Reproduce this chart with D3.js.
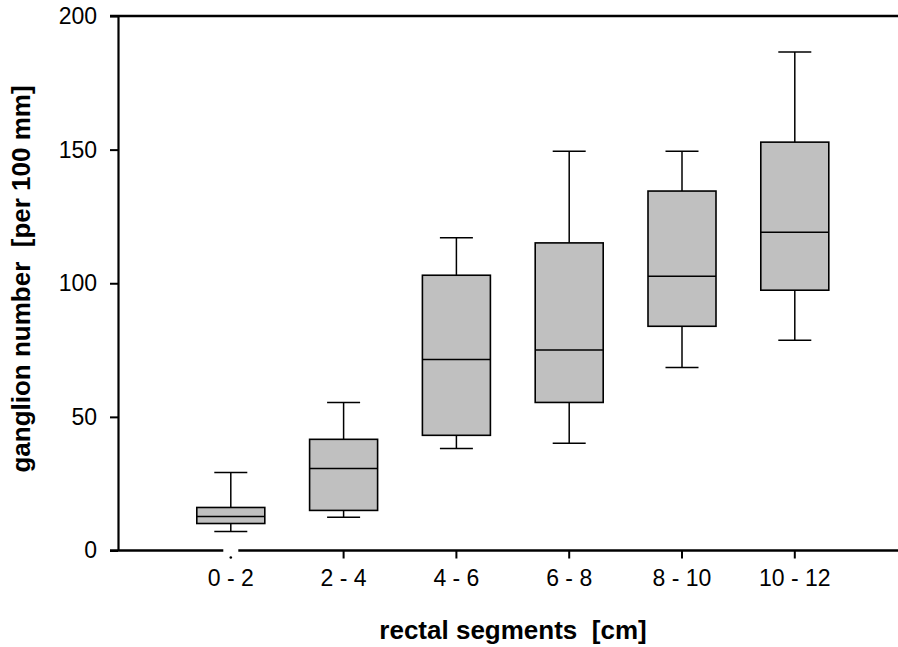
<!DOCTYPE html>
<head>
  <style>
    body { margin: 0; background: #fff; }
    text { font-family: "Liberation Sans", Arial, sans-serif; fill: #000; white-space: pre; }
  </style>
  <script src="https://d3js.org/d3.v7.min.js"></script>
</head>
<body>
<div class="home"></div>
<script>
  // box statistics
  const segments = ["0 - 2", "2 - 4", "4 - 6", "6 - 8", "8 - 10", "10 - 12"];
  const whiskerLow = [7.1, 12.4, 38.2, 40.1, 68.5, 78.7];
  const q1 = [10.1, 15.0, 43.1, 55.4, 83.9, 97.4];
  const medians = [12.7, 30.7, 71.5, 75.0, 102.6, 119.1];
  const q3 = [16.1, 41.6, 103.0, 115.1, 134.5, 152.8];
  const whiskerHigh = [29.2, 55.4, 117.0, 149.4, 149.4, 186.5];
  const yTicks = [0, 50, 100, 150, 200];

  const width = 898, height = 647;
  const plotLeft = 118, plotTop = 16, plotBottom = 550.5;

  const svg = d3.select(".home").append("svg")
    .attr("width", width)
    .attr("height", height);

  const y = d3.scaleLinear().domain([0, 200]).range([plotBottom, plotTop]);
  // categories sit at 1..6 on an index scale that runs past the right edge
  const x = d3.scaleLinear().domain([0, 7]).range([plotLeft, plotLeft + 7 * 112.8]);

  const boxes = segments.map((s, i) => ({
    seg: s, i: i + 1,
    lo: whiskerLow[i], q1: q1[i], med: medians[i], q3: q3[i], hi: whiskerHigh[i]
  }));

  const boxW = 68, capW = 33;

  // y axis
  const yAxis = svg.append("g")
    .attr("transform", `translate(${plotLeft},0)`)
    .call(d3.axisLeft(y).tickValues(yTicks).tickSize(8).tickSizeOuter(0).tickPadding(13));
  yAxis.select(".domain").attr("stroke-width", 2.2);
  yAxis.selectAll(".tick line").attr("stroke-width", 2);
  yAxis.selectAll(".tick text").style("font-size", "23px")
    .style("font-family", "'Liberation Sans', Arial, sans-serif");

  // top frame line
  svg.append("line")
    .attr("x1", plotLeft - 8).attr("x2", width)
    .attr("y1", y(200)).attr("y2", y(200))
    .attr("stroke", "#000").attr("stroke-width", 2.5);

  // x axis
  const xAxis = svg.append("g")
    .attr("transform", `translate(0,${plotBottom})`);
  xAxis.append("line")
    .attr("x1", plotLeft - 8).attr("x2", width)
    .attr("stroke", "#000").attr("stroke-width", 2.5);
  // first tick shows as a gap with a dot below it
  xAxis.append("rect")
    .attr("x", x(1) - 7.5).attr("y", -3).attr("width", 15).attr("height", 6)
    .attr("fill", "#fff");
  xAxis.append("circle")
    .attr("cx", x(1)).attr("cy", 7).attr("r", 1.3).attr("fill", "#000");
  xAxis.selectAll(".xt")
    .data(boxes.slice(1))
    .enter().append("line")
    .attr("x1", d => x(d.i)).attr("x2", d => x(d.i))
    .attr("y1", 0).attr("y2", 8)
    .attr("stroke", "#000").attr("stroke-width", 2);
  xAxis.selectAll(".xl")
    .data(boxes)
    .enter().append("text")
    .attr("x", d => x(d.i)).attr("y", 35)
    .attr("text-anchor", "middle")
    .style("font-size", "23px")
    .text(d => d.seg);

  // boxes
  const g = svg.selectAll(".box")
    .data(boxes)
    .enter().append("g");

  g.append("line")
    .attr("x1", d => x(d.i)).attr("x2", d => x(d.i))
    .attr("y1", d => y(d.hi)).attr("y2", d => y(d.lo))
    .attr("stroke", "#000").attr("stroke-width", 1.5);
  g.append("line")
    .attr("x1", d => x(d.i) - capW / 2).attr("x2", d => x(d.i) + capW / 2)
    .attr("y1", d => y(d.hi)).attr("y2", d => y(d.hi))
    .attr("stroke", "#000").attr("stroke-width", 1.5);
  g.append("line")
    .attr("x1", d => x(d.i) - capW / 2).attr("x2", d => x(d.i) + capW / 2)
    .attr("y1", d => y(d.lo)).attr("y2", d => y(d.lo))
    .attr("stroke", "#000").attr("stroke-width", 1.5);
  g.append("rect")
    .attr("x", d => x(d.i) - boxW / 2)
    .attr("y", d => y(d.q3))
    .attr("width", boxW)
    .attr("height", d => y(d.q1) - y(d.q3))
    .attr("fill", "#c0c0c0")
    .attr("stroke", "#000").attr("stroke-width", 1.6);
  g.append("line")
    .attr("x1", d => x(d.i) - boxW / 2).attr("x2", d => x(d.i) + boxW / 2)
    .attr("y1", d => y(d.med)).attr("y2", d => y(d.med))
    .attr("stroke", "#000").attr("stroke-width", 1.5);

  // axis titles
  svg.append("text")
    .attr("x", 513).attr("y", 639)
    .attr("text-anchor", "middle")
    .style("font-size", "26px").style("font-weight", "bold")
    .text("rectal segments  [cm]");
  svg.append("text")
    .attr("transform", "translate(30,279) rotate(-90)")
    .attr("text-anchor", "middle")
    .style("font-size", "26px").style("font-weight", "bold")
    .text("ganglion number  [per 100 mm]");
</script>
</body>
